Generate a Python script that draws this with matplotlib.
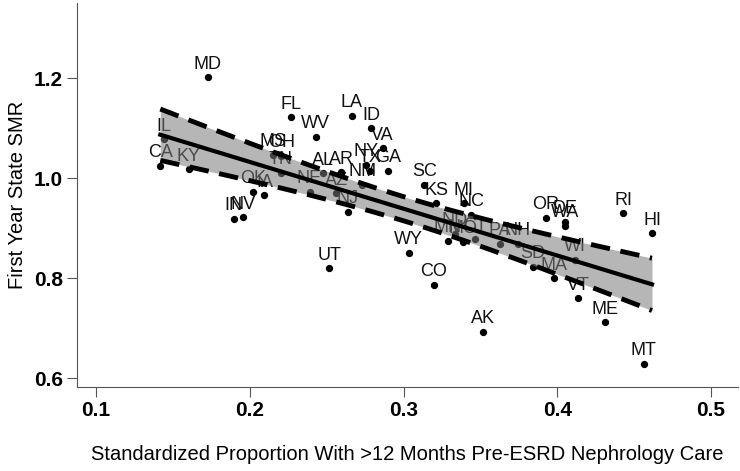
import numpy as np
import matplotlib
matplotlib.use("Agg")
import matplotlib.pyplot as plt

# state codes, pre-ESRD care proportion (x), first year SMR (y)
states = ["MD", "FL", "WV", "LA", "ID", "VA", "IL", "CA", "KY", "MS",
          "OH", "TN", "AL", "AR", "NY", "TX", "GA", "NM", "NE", "AZ",
          "NJ", "OK", "IA", "IN", "NV", "UT", "SC", "KS", "MI", "NC",
          "WY", "CO", "AK", "MN", "MO", "ND", "CT", "PA", "NH", "OR",
          "DE", "WA", "RI", "HI", "WI", "SD", "MA", "VT", "ME", "MT"]
prop = [0.1726, 0.2269, 0.2427, 0.2663, 0.2789, 0.2864, 0.1439, 0.1417, 0.1602, 0.2148,
        0.2205, 0.2203, 0.2474, 0.2594, 0.2755, 0.2784, 0.2901, 0.2730, 0.2388, 0.2561,
        0.2636, 0.2018, 0.2095, 0.1895, 0.1954, 0.2517, 0.3135, 0.3212, 0.3391, 0.3441,
        0.3032, 0.3195, 0.3519, 0.3288, 0.3386, 0.3334, 0.3464, 0.3626, 0.3743, 0.3927,
        0.4052, 0.4052, 0.4430, 0.4616, 0.4117, 0.3840, 0.3976, 0.4137, 0.4311, 0.4561]
smr = [1.2026, 1.1220, 1.0836, 1.1257, 1.1004, 1.0603, 1.0784, 1.0248, 1.0182, 1.0469,
       1.0449, 1.0114, 1.0102, 1.0122, 1.0269, 1.0148, 1.0154, 0.9868, 0.9733, 0.9701,
       0.9333, 0.9733, 0.9661, 0.9186, 0.9220, 0.8198, 0.9868, 0.9501, 0.9501, 0.9267,
       0.8511, 0.7870, 0.6922, 0.8751, 0.8725, 0.8886, 0.8786, 0.8685, 0.8685, 0.9216,
       0.9126, 0.9046, 0.9301, 0.8900, 0.8365, 0.8230, 0.7998, 0.7597, 0.7116, 0.6287]

x = np.array(prop)
y = np.array(smr)

# OLS fit with 95% confidence band of the mean
n = len(x)
b1, b0 = np.polyfit(x, y, 1)
resid = y - (b0 + b1 * x)
s = np.sqrt(np.sum(resid ** 2) / (n - 2))
xs = np.linspace(x.min(), x.max(), 200)
yhat = b0 + b1 * xs
se = s * np.sqrt(1 / n + (xs - x.mean()) ** 2 / np.sum((x - x.mean()) ** 2))
t = 2.011
lo, hi = yhat - t * se, yhat + t * se

plt.rcParams['font.family'] = ['Liberation Sans', 'DejaVu Sans']
fig = plt.figure(figsize=(7.4, 4.71), dpi=100)
ax = fig.add_axes([0.104, 0.178, 0.893, 0.816])

ax.scatter(x, y, s=18, color='black', zorder=3)
for st, xi, yi in zip(states, x, y):
    ax.annotate(st, (xi, yi), xytext=(0, 9.5), textcoords='offset points',
                ha='center', va='center', fontsize=13, color='#111111', zorder=2)

ax.fill_between(xs, lo, hi, color='#7a7a7a', alpha=0.55, lw=0, zorder=4)
ax.plot(xs, yhat, color='black', lw=3, zorder=5)
ax.plot(xs, lo, color='black', lw=3.5, ls=(0, (4, 2.2)), zorder=5)
ax.plot(xs, hi, color='black', lw=3.5, ls=(0, (4, 2.2)), zorder=5)

ax.set_xlim(0.0875, 0.5174)
ax.set_ylim(0.582, 1.3515)
ax.set_xticks([0.1, 0.2, 0.3, 0.4, 0.5])
ax.set_yticks([0.6, 0.8, 1.0, 1.2])
ax.set_xticklabels(['0.1', '0.2', '0.3', '0.4', '0.5'], fontweight='bold')
ax.set_yticklabels(['0.6', '0.8', '1.0', '1.2'], fontweight='bold')
ax.tick_params(labelsize=15, length=7, color='#555555', pad=3)
for side in ['top', 'right']:
    ax.spines[side].set_visible(False)
for side in ['left', 'bottom']:
    ax.spines[side].set_color('#555555')

ax.set_xlabel('Standardized Proportion With >12 Months Pre-ESRD Nephrology Care',
              fontsize=14.5, labelpad=18)
ax.set_ylabel('First Year State SMR', fontsize=14.5, labelpad=5)

fig.savefig('out.png', dpi=100)
